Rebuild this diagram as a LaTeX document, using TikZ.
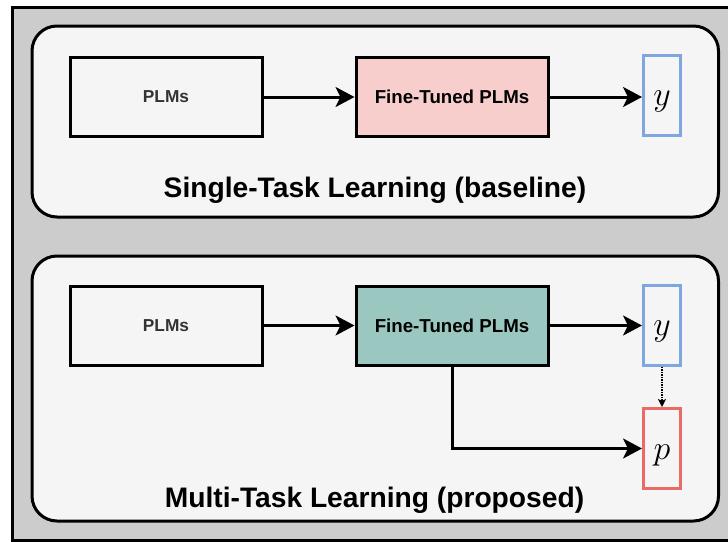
\RequirePackage{fix-cm}
\documentclass[tikz,border=0pt]{standalone}
\usepackage{fontspec}
\setsansfont{Liberation Sans}
\usepackage{tikz}
\usetikzlibrary{
    arrows.meta,
    positioning
}
\definecolor{frame}{HTML}{CCCCCC}
\definecolor{panel}{HTML}{F5F5F5}
\definecolor{pinkfill}{HTML}{F8CECC}
\definecolor{tealfill}{HTML}{9AC7BF}
\definecolor{ylabel}{HTML}{7EA6E0}
\definecolor{plabel}{HTML}{EA6B66}
\definecolor{plmtext}{HTML}{333333}
\tikzset{panelbox/.style={draw=black, line width=3pt, fill=panel, rounded corners=25pt}}
\tikzset{plm/.style={draw=black, line width=3pt, fill=panel, minimum width=192pt, minimum height=79pt, inner sep=0pt, text=plmtext, font=\sffamily\bfseries\fontsize{17.3}{20}\selectfont}}
\tikzset{tuned/.style={plm, text=black, font=\sffamily\bfseries\fontsize{18.7}{22}\selectfont}}
\tikzset{outy/.style={draw=ylabel, line width=3pt, fill=panel, minimum width=37pt, minimum height=80pt, inner sep=0pt, text height=22pt, text depth=0.6pt, font=\fontsize{34}{40}\selectfont}}
\tikzset{outp/.style={outy, draw=plabel}}
\tikzset{title/.style={anchor=base, font=\sffamily\bfseries\fontsize{28.2}{32}\selectfont}}

\begin{document}
\begin{tikzpicture}[x=1pt, y=-1pt, >={Stealth[length=19pt, width=20pt, inset=5pt]}]
                        \useasboundingbox (0, 0) rectangle (728, 541);
                        \draw[line width=3pt, fill=frame] (12, 7.5) rectangle (760, 540.5);

                        % single-task panel
                        \begin{scope}
                            \draw[panelbox] (32, 26) rectangle (718.5, 217);

                            \node[plm] (plmA) at (166, 97) {PLMs};
                            \node[tuned, fill=pinkfill] (ftA) at (452, 97) {Fine-Tuned PLMs};
                            \node[outy] (yA) at (662, 95) {$y$};
                            \node[title] (titleA) at (375, 197) {Single-Task Learning (baseline)};

                            \draw[line width=3pt]
                            (plmA) edge[->] (ftA)
                            (ftA) edge[->] (yA.west |- ftA);
                        \end{scope}

                        % multi-task panel
                        \begin{scope}
                            \draw[panelbox] (32, 256) rectangle (718.5, 521);

                            \node[plm] (plmB) at (166, 325.5) {PLMs};
                            \node[tuned, fill=tealfill] (ftB) at (452, 325.5) {Fine-Tuned PLMs};
                            \node[outy] (yB) at (662, 325) {$y$};
                            \node[outp] (pB) at (662, 448.5) {$p$};
                            \node[title] (titleB) at (374.5, 507) {Multi-Task Learning (proposed)};

                            \draw[line width=3pt]
                            (plmB) edge[->] (ftB)
                            (ftB) edge[->] (yB.west |- ftB);
                            \draw[line width=3pt, ->] (ftB.south) |- (pB.west);
                            \draw[line width=1.5pt, densely dotted, -{Stealth[length=8pt, width=8pt, inset=2pt]}] (yB.south) -- (pB.north);
                        \end{scope}
                    \end{tikzpicture}
\end{document}
